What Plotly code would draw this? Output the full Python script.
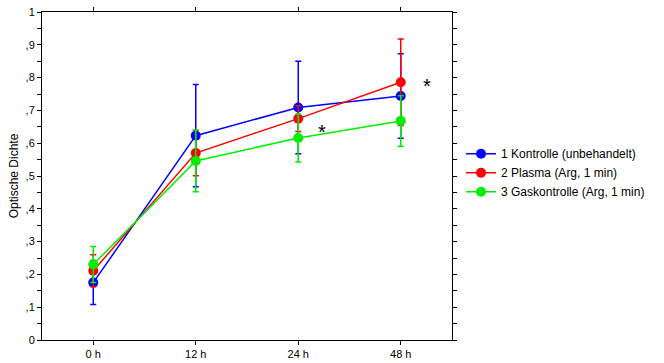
import plotly.graph_objects as go

categories = ["0 h", "12 h", "24 h", "48 h"]
series_names = ["1 Kontrolle (unbehandelt)", "2 Plasma (Arg, 1 min)", "3 Gaskontrolle (Arg, 1 min)"]
kontrolle = [0.175, 0.623, 0.709, 0.744]
kontrolle_err = [0.067, 0.156, 0.141, 0.129]
plasma = [0.211, 0.570, 0.675, 0.786]
plasma_err = [0.049, 0.069, 0.039, 0.132]
gaskontrolle = [0.230, 0.546, 0.616, 0.668]
gaskontrolle_err = [0.055, 0.094, 0.073, 0.077]
colors = ["#0000FF", "#FF0000", "#00EE00"]
ytick_vals = [0, 0.1, 0.2, 0.3, 0.4, 0.5, 0.6, 0.7, 0.8, 0.9, 1.0]
ytick_text = ["0", ",1", ",2", ",3", ",4", ",5", ",6", ",7", ",8", ",9", "1"]
star_x = [2.23, 3.26]
star_y = [0.643, 0.784]

x_pos = list(range(len(categories)))
fig = go.Figure()
for name, vals, errs, c in zip(series_names, [kontrolle, plasma, gaskontrolle],
                               [kontrolle_err, plasma_err, gaskontrolle_err], colors):
    fig.add_trace(go.Scatter(
        x=x_pos, y=vals, name=name, mode="lines+markers",
        line=dict(color=c, width=1.5),
        marker=dict(color=c, size=10),
        error_y=dict(type="data", array=errs, visible=True, color=c, thickness=1.5, width=3),
    ))

for sx, sy in zip(star_x, star_y):
    fig.add_annotation(x=sx, y=sy, text="*", showarrow=False, yshift=-3,
                       font=dict(size=20, color="black", family="Liberation Sans"))

fig.update_layout(
    width=664, height=363,
    margin=dict(l=42, r=212, t=12, b=23),
    plot_bgcolor="white", paper_bgcolor="white",
    font=dict(family="Liberation Sans, Arial", size=11, color="black"),
    legend=dict(x=1.022, y=0.51, xanchor="left", yanchor="middle",
                font=dict(size=12), bgcolor="rgba(0,0,0,0)",
                tracegroupgap=0, itemwidth=30),
    showlegend=True,
)
fig.update_xaxes(
    range=[-0.5, 3.5], tickvals=x_pos, ticktext=categories,
    showline=True, linecolor="black", linewidth=1, mirror="ticks",
    ticks="outside", ticklen=4, tickcolor="black", showgrid=False, zeroline=False,
    tickfont=dict(size=11), automargin=False,
)
fig.update_yaxes(
    range=[0, 1], tickvals=ytick_vals, ticktext=ytick_text,
    showline=True, linecolor="black", linewidth=1, mirror="ticks",
    ticks="outside", ticklen=4, tickcolor="black", showgrid=False, zeroline=False,
    minor=dict(dtick=0.05, ticks="outside", ticklen=4, tickcolor="black", showgrid=False),
    title=dict(text="Optische Dichte", font=dict(size=12), standoff=4),
    tickfont=dict(size=11), automargin=False,
)
fig.write_html("out.html", config={"displayModeBar": False},
               post_script="document.body.style.margin='0';")
